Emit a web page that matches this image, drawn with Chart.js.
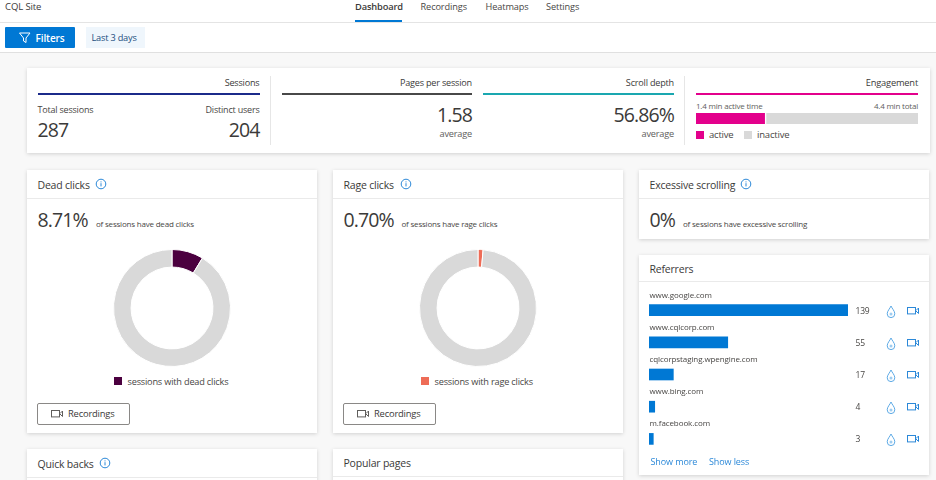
<!DOCTYPE html>
<html>
<head>
<meta charset="utf-8">
<title>CQL Site</title>
<script src="https://cdn.jsdelivr.net/npm/chart.js@4"></script>
<style>
html, body { margin: 0; padding: 0; }
body { width: 936px; height: 480px; overflow: hidden; position: relative; background: #f8f8f8; font-family: "Open Sans", sans-serif; color: #323130; }
.abs, canvas { position: absolute; }
.t { position: absolute; white-space: nowrap; line-height: 14px; height: 14px; }
.r { transform: translateX(-100%); }
.card { position: absolute; background: #fff; box-shadow: 0 1px 4px rgba(0,0,0,.16); }
.rule { position: absolute; background: #eaeaea; height: 1px; }
.btn { position: absolute; box-sizing: border-box; border: 1px solid #8a8886; border-radius: 2px; background: #fff; }
svg { position: absolute; overflow: visible; }
</style>
</head>
<body>
<div class="abs" style="left:0;top:0;width:936px;height:22px;background:#fff;border-bottom:1px solid #e4e4e4"></div>
<div class="abs" style="left:0;top:23px;width:936px;height:29px;background:#fff;border-bottom:1px solid #e0e0e0"></div>
<div class="abs" style="left:355px;top:20px;width:47px;height:2px;background:#0078d4"></div>
<div class="abs" style="left:5px;top:27px;width:70px;height:21px;background:#0078d4;border-radius:1px"></div>
<div class="abs" style="left:86px;top:27px;width:59px;height:21px;background:#eff6fc"></div>
<svg style="left:19px;top:32px" width="12" height="12" viewBox="0 0 12 12"><path d="M.5 1h10.5L7 6v4.5L4.5 9V6z" fill="none" stroke="#fff" stroke-width="1"/></svg>
<div id="root"></div>

<script>
// chart data
const deadSlices = [8.71, 91.29];
const rageSlices = [1.4, 98.6]; // slice as drawn in the picture, wider than its 0.70% caption
const engagementActive = [1.36];
const engagementInactive = [3.04];
const referrerNames = ['www.google.com', 'www.cqlcorp.com', 'cqlcorpstaging.wpengine.com', 'www.bing.com', 'm.facebook.com'];
const referrerValues = [139, 55, 17, 4, 3];

const root = document.getElementById('root');

function addBox(cls, left, top, w, h) {
    const el = document.createElement('div');
    el.className = cls;
    el.style.cssText = 'left:' + left + 'px;top:' + top + 'px;width:' + w + 'px;height:' + h + 'px';
    root.appendChild(el);
    return el;
}

// x is the left edge, or the right edge when right is set; cy is the text centre
function addText(str, x, cy, size, opts) {
    opts = opts || {};
    const el = document.createElement('div');
    el.className = 't' + (opts.right ? ' r' : '');
    el.textContent = str;
    el.style.left = x + 'px';
    el.style.top = (cy - 7) + 'px';
    el.style.fontSize = size + 'px';
    el.style.color = opts.color || '#3b3a39';
    if (opts.weight) el.style.fontWeight = opts.weight;
    el.style.letterSpacing = (opts.spacing === undefined ? -0.2 : opts.spacing) + 'px';
    root.appendChild(el);
}

function addSvg(x, y, w, h, inner) {
    const holder = document.createElement('div');
    holder.innerHTML = '<svg style="left:' + x + 'px;top:' + y + 'px" width="' + w + '" height="' + h + '" viewBox="0 0 ' + w + ' ' + h + '">' + inner + '</svg>';
    root.appendChild(holder.firstChild);
}

function infoIcon(cx, cy) {
    addSvg(cx - 6, cy - 6, 12, 12, '<circle cx="6" cy="6" r="4.8" fill="none" stroke="#2b88d8" stroke-width="1"/><path d="M6 5.2v3.2M6 3.4v1" stroke="#2b88d8" stroke-width="1"/>');
}

function camIcon(x, y, color) {
    addSvg(x, y, 12, 8, '<rect x=".5" y=".5" width="8" height="6.4" fill="none" stroke="' + color + '" stroke-width="1"/><path d="M9 3.5 11.5 1v5.5L9 4" fill="none" stroke="' + color + '" stroke-width="1"/>');
}

function dropIcon(cx, cy) {
    addSvg(cx - 5, cy - 7, 10, 14, '<path d="M5 1C4 3.5 1.2 6 1.2 8.8a3.8 3.8 0 0 0 7.6 0C8.8 6 6 3.5 5 1z" fill="none" stroke="#5ca9e5" stroke-width="1"/><circle cx="5" cy="9" r="1.5" fill="#9fcdf0"/>');
}

function addCanvas(left, top, w, h) {
    const c = document.createElement('canvas');
    c.width = w;
    c.height = h;
    c.style.cssText = 'left:' + left + 'px;top:' + top + 'px;width:' + w + 'px;height:' + h + 'px';
    root.appendChild(c);
    return c;
}

function donut(cx, cy, slices, color) {
    new Chart(addCanvas(cx - 59, cy - 59, 118, 118), {
        type: 'doughnut',
        data: {
            datasets: [{
                data: slices,
                backgroundColor: [color, '#d9d9d9'],
                borderColor: '#fff',
                borderWidth: 1
            }]
        },
        options: {
            responsive: false,
            animation: false,
            cutout: '70%',
            events: [],
            layout: { padding: 0 },
            plugins: { legend: { display: false }, tooltip: { enabled: false } }
        }
    });
}

const bigNum = { spacing: -0.9 };

// nav
addText('CQL Site', 5, 7, 9.5, { spacing: -0.1 });
addText('Dashboard', 355, 7, 9.3, { weight: 600, spacing: -0.15 });
addText('Recordings', 420.5, 7, 9.2, { color: '#484644', spacing: -0.1 });
addText('Heatmaps', 485.5, 7, 9.2, { color: '#484644', spacing: -0.1 });
addText('Settings', 546, 7, 9.2, { color: '#484644', spacing: -0.1 });
addText('Filters', 35.5, 38, 10, { color: '#fff', weight: 600, spacing: -0.1 });
addText('Last 3 days', 91.5, 38, 9.2, { color: '#1c4f80', spacing: -0.2 });

// summary card
addBox('card', 27, 68, 903, 85);
addBox('abs', 270, 76, 1, 69).style.background = '#e6e6e6';
addBox('abs', 684, 76, 1, 69).style.background = '#e6e6e6';
addBox('abs', 38, 93, 222, 2).style.background = '#1b2a8a';
addBox('abs', 282, 93, 190, 2).style.background = '#484848';
addBox('abs', 483, 93, 191, 2).style.background = '#1aa7b0';
addBox('abs', 696, 93, 222, 2).style.background = '#e3008c';

addText('Sessions', 259.5, 83, 9.1, { right: true });
addText('Total sessions', 37.5, 110, 9, { color: '#484644' });
addText('Distinct users', 259.5, 110, 9, { right: true, color: '#484644' });
addText('287', 37.5, 130, 19.5, bigNum);
addText('204', 259.5, 130, 19.5, { right: true, spacing: -0.9 });
addText('Pages per session', 472, 83, 9.1, { right: true });
addText('1.58', 472, 115, 19.5, { right: true, spacing: -0.9 });
addText('average', 472, 134, 9.2, { right: true, color: '#605e5c' });
addText('Scroll depth', 674, 83, 9.1, { right: true });
addText('56.86%', 674, 115, 19.5, { right: true, spacing: -0.9 });
addText('average', 674, 134, 9.2, { right: true, color: '#605e5c' });
addText('Engagement', 918, 83, 9.3, { right: true });
addText('1.4 min active time', 696, 106, 8, { color: '#605e5c' });
addText('4.4 min total', 918, 106, 8, { right: true, color: '#605e5c' });
addBox('abs', 696, 131, 8, 8).style.background = '#e3008c';
addText('active', 709, 135, 9.5, { color: '#484644' });
addBox('abs', 744, 131, 8, 8).style.background = '#d9d9d9';
addText('inactive', 757, 135, 9.5, { color: '#484644' });

new Chart(addCanvas(696, 113, 222, 11), {
    type: 'bar',
    data: {
        labels: ['Engagement'],
        datasets: [
            { label: 'active', data: engagementActive, backgroundColor: '#e3008c', barThickness: 11 },
            { label: 'inactive', data: engagementInactive, backgroundColor: '#d9d9d9', barThickness: 11, borderColor: '#fff', borderWidth: { left: 2 }, borderSkipped: false }
        ]
    },
    options: {
        indexAxis: 'y',
        responsive: false,
        animation: false,
        events: [],
        layout: { padding: 0 },
        scales: {
            x: { display: false, stacked: true, min: 0, max: 4.4 },
            y: { display: false, stacked: true }
        },
        plugins: { legend: { display: false }, tooltip: { enabled: false } }
    }
});

// dead clicks
addBox('card', 27, 170, 290, 263);
addBox('rule', 27, 198, 290, 1);
addText('Dead clicks', 37.5, 185, 10.5);
infoIcon(101, 184);
addText('8.71%', 37.5, 220, 19.5, bigNum);
addText('of sessions have dead clicks', 96, 223.5, 8, { color: '#484644' });
donut(172, 308, deadSlices, '#4b003f');
addBox('abs', 114, 377, 8, 8).style.background = '#4b003f';
addText('sessions with dead clicks', 127.5, 381.5, 9.2, { color: '#484644' });
addBox('btn', 37, 403, 93, 22);
camIcon(51, 410, '#605e5c');
addText('Recordings', 68, 414, 9.4);

// rage clicks
addBox('card', 333, 170, 290, 263);
addBox('rule', 333, 198, 290, 1);
addText('Rage clicks', 343.5, 185, 10.5);
infoIcon(405.5, 184);
addText('0.70%', 343.5, 220, 19.5, bigNum);
addText('of sessions have rage clicks', 401.5, 223.5, 8, { color: '#484644' });
donut(478, 308, rageSlices, '#ee6c57');
addBox('abs', 421, 377, 8, 8).style.background = '#ee6c57';
addText('sessions with rage clicks', 434.5, 381.5, 9.2, { color: '#484644' });
addBox('btn', 343, 403, 93, 22);
camIcon(357, 410, '#605e5c');
addText('Recordings', 374, 414, 9.4);

// excessive scrolling
addBox('card', 639, 170, 290, 69);
addBox('rule', 639, 198, 290, 1);
addText('Excessive scrolling', 649.5, 185, 10.5);
infoIcon(745.5, 184);
addText('0%', 649.5, 220, 19.5, bigNum);
addText('of sessions have excessive scrolling', 683, 223.5, 8, { color: '#484644' });

// referrers
addBox('card', 639, 255, 290, 220);
addBox('rule', 639, 281, 290, 1);
addText('Referrers', 649.5, 269, 10.5);

new Chart(addCanvas(649, 294, 199, 161), {
    type: 'bar',
    data: {
        labels: referrerNames,
        datasets: [{ data: referrerValues, backgroundColor: '#0078d4', barThickness: 11 }]
    },
    options: {
        indexAxis: 'y',
        responsive: false,
        animation: false,
        events: [],
        layout: { padding: 0 },
        scales: {
            x: { display: false, min: 0, max: 139 },
            y: { display: false }
        },
        plugins: { legend: { display: false }, tooltip: { enabled: false } }
    }
});

referrerNames.forEach(function (name, i) {
    const rowY = 310.5 + i * 32.1;
    addText(name, 649.5, rowY - 15.5, 8, { color: '#484644', spacing: -0.1 });
    addText(String(referrerValues[i]), 855.5, rowY + 0.5, 8.5, { color: '#484644' });
    dropIcon(891, rowY + 1);
    camIcon(907, rowY - 4, '#2b88d8');
});
addText('Show more', 650.5, 462, 9, { color: '#2b88d8', spacing: -0.1 });
addText('Show less', 709, 462, 9, { color: '#2b88d8', spacing: -0.1 });

// bottom cards, cut off by the window
addBox('card', 27, 449, 290, 40);
addBox('rule', 27, 477, 290, 1);
addText('Quick backs', 37.5, 464, 10.5);
infoIcon(104.5, 463);
addBox('card', 333, 449, 290, 40);
addBox('rule', 333, 476, 290, 1);
addText('Popular pages', 343.5, 463, 10.5);
</script>
</body>
</html>
